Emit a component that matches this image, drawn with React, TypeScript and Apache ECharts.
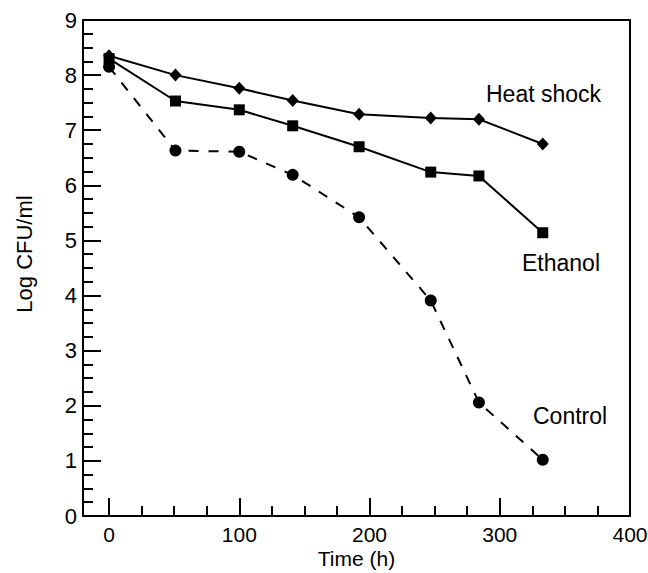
import React, { useEffect, useRef } from "react";
import * as echarts from "echarts";

const times = [0, 51, 100, 141, 192, 247, 284, 333];
const heatShock = [8.35, 8.0, 7.76, 7.54, 7.29, 7.22, 7.2, 6.75];
const ethanol = [8.3, 7.53, 7.37, 7.08, 6.7, 6.24, 6.17, 5.14];
const control = [8.15, 6.63, 6.61, 6.19, 5.42, 3.91, 2.06, 1.02];
const xMajor = [0, 100, 200, 300, 400];
const xMinor = [25, 50, 75, 125, 150, 175, 225, 250, 275, 325, 350, 375];

const FONT = "'Liberation Sans', Arial, sans-serif";

export default function App() {
  const ref = useRef<HTMLDivElement>(null);
  useEffect(() => {
    if (!ref.current) return;
    const chart = echarts.init(ref.current, undefined, { renderer: "svg" });
    const pair = (ys: number[]) => times.map((t, i) => [t, ys[i]]);
    chart.setOption({
      animation: false,
      backgroundColor: "#fff",
      grid: {
        left: 83,
        right: 18,
        top: 20,
        bottom: 57,
        containLabel: false,
        outerBoundsMode: "none",
        show: true,
        borderColor: "#000",
        borderWidth: 2,
        backgroundColor: "transparent",
      },
      xAxis: [
        {
          type: "value",
          min: -20,
          max: 400,
          position: "bottom",
          splitLine: { show: false },
          axisLine: { show: true, onZero: false, lineStyle: { color: "#000", width: 2 } },
          axisTick: {
            show: true,
            inside: true,
            length: 18,
            customValues: xMajor,
            lineStyle: { color: "#000", width: 2 },
          },
          axisLabel: {
            customValues: xMajor,
            color: "#000",
            fontSize: 21,
            fontFamily: FONT,
            margin: 8,
          },
        },
        {
          type: "value",
          min: -20,
          max: 400,
          position: "bottom",
          splitLine: { show: false },
          axisLine: { show: false, onZero: false },
          axisTick: {
            show: true,
            inside: true,
            length: 10,
            customValues: xMinor,
            lineStyle: { color: "#000", width: 2 },
          },
          axisLabel: { show: false },
        },
      ],
      yAxis: {
        type: "value",
        min: 0,
        max: 9,
        interval: 1,
        splitLine: { show: false },
        axisLine: { show: true, onZero: false, lineStyle: { color: "#000", width: 2 } },
        axisTick: { show: true, inside: true, length: 18, lineStyle: { color: "#000", width: 2 } },
        minorTick: { show: true, splitNumber: 4, length: 10, lineStyle: { color: "#000", width: 2 } },
        minorSplitLine: { show: false },
        axisLabel: { color: "#000", fontSize: 22, fontFamily: FONT, margin: 6 },
      },
      graphic: [
        {
          type: "text",
          x: 356.5,
          y: 558,
          style: {
            text: "Time (h)",
            fill: "#000",
            font: `500 21px ${FONT}`,
            align: "center",
            verticalAlign: "middle",
          },
        },
        {
          type: "text",
          x: 24,
          y: 254,
          rotation: Math.PI / 2,
          style: {
            text: "Log CFU/ml",
            fill: "#000",
            font: `22px ${FONT}`,
            align: "center",
            verticalAlign: "middle",
          },
        },
        {
          type: "text",
          x: 486,
          y: 94,
          style: { text: "Heat shock", fill: "#000", font: `23px ${FONT}`, align: "left", verticalAlign: "middle" },
        },
        {
          type: "text",
          x: 522,
          y: 263,
          style: { text: "Ethanol", fill: "#000", font: `23px ${FONT}`, align: "left", verticalAlign: "middle" },
        },
        {
          type: "text",
          x: 533,
          y: 416,
          style: { text: "Control", fill: "#000", font: `23px ${FONT}`, align: "left", verticalAlign: "middle" },
        },
      ],
      series: [
        {
          name: "Heat shock",
          type: "line",
          data: pair(heatShock),
          symbol: "diamond",
          symbolSize: [12, 13],
          itemStyle: { color: "#000" },
          lineStyle: { color: "#000", width: 2 },
        },
        {
          name: "Ethanol",
          type: "line",
          data: pair(ethanol),
          symbol: "rect",
          symbolSize: 11,
          itemStyle: { color: "#000" },
          lineStyle: { color: "#000", width: 2 },
        },
        {
          name: "Control",
          type: "line",
          data: pair(control),
          symbol: "circle",
          symbolSize: 12,
          itemStyle: { color: "#000" },
          lineStyle: { color: "#000", width: 2, type: [10, 10] },
        },
      ],
    });
    return () => chart.dispose();
  }, []);
  return <div ref={ref} style={{ width: 648, height: 573, position: "absolute", left: 0, top: 0 }} />;
}
